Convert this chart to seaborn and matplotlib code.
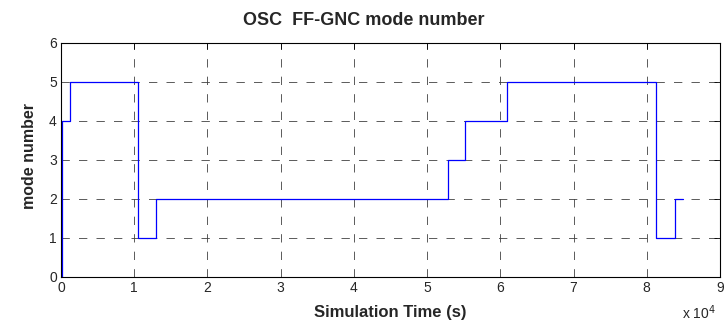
import matplotlib
matplotlib.use("Agg")
import matplotlib.pyplot as plt
import seaborn as sns
import pandas as pd

sns.set_style("white")
plt.rcParams['font.family'] = ['Liberation Sans', 'DejaVu Sans']

# step transition times (in units of 1e4 s) and mode values
times = [0.0, 0.02, 0.117, 1.045, 1.30, 5.29, 5.52, 6.09, 8.12, 8.38, 8.49]
modes = [0, 4, 5, 1, 2, 3, 4, 5, 1, 2, 2]
xticks = [0, 1, 2, 3, 4, 5, 6, 7, 8, 9]
yticks = [0, 1, 2, 3, 4, 5, 6]

df = pd.DataFrame({"t": times, "mode": modes})

fig = plt.figure(figsize=(7.27, 3.25), dpi=100)
ax = fig.add_axes([0.0839, 0.1477, 0.9064, 0.7209])

sns.lineplot(data=df, x="t", y="mode", drawstyle="steps-post", color=(0, 0, 1),
             linewidth=0.9, ax=ax, estimator=None, sort=False)

ax.set_xlim(0, 9)
ax.set_ylim(0, 6)
ax.set_xticks(xticks)
ax.set_yticks(yticks)
ax.set_xticklabels([str(v) for v in xticks], fontsize=10)
ax.set_yticklabels([str(v) for v in yticks], fontsize=10)
ax.tick_params(direction="in", length=4, width=0.6, color="black", pad=3)
ax.tick_params(top=True, right=True, labeltop=False, labelright=False)
ax.grid(True, color="0.25", linestyle=(0, (10, 11)), linewidth=0.6)
for s in ax.spines.values():
    s.set_color("black")
    s.set_linewidth(0.8)

ax.set_xlabel("Simulation Time (s)", fontsize=12, fontweight="bold", va="baseline")
ax.xaxis.set_label_coords(0.5, -0.1707)
ax.set_ylabel("mode number", fontsize=11.5, fontweight="bold")
ax.yaxis.set_label_coords(-0.037, 0.515)
fig.text(0.5007, 0.923, "OSC  FF-GNC mode number", fontsize=13, fontweight="bold",
         ha="center", va="baseline")
fig.text(0.938, 0.008, r"x 10$^{4}$", fontsize=10, ha="left", va="bottom")

fig.savefig("out.png", dpi=100)
